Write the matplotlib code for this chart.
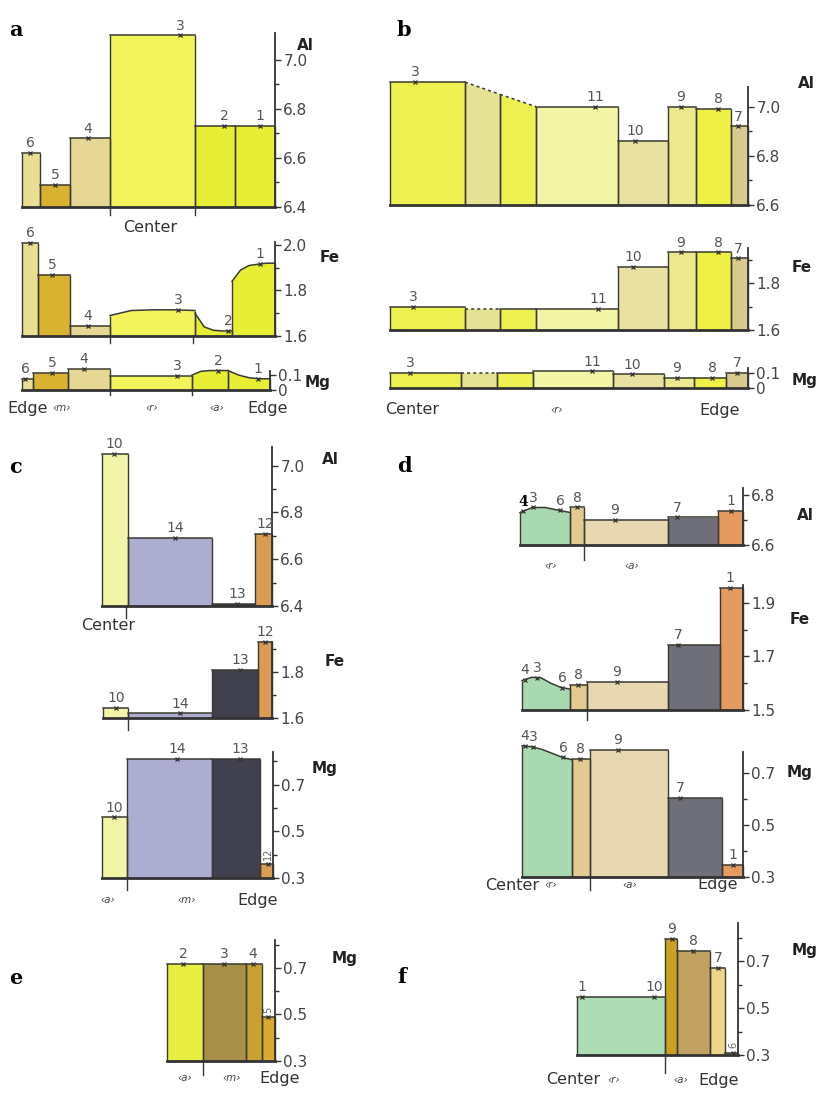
import numpy as np
import matplotlib.pyplot as plt

W, H = 816, 1094
EDGE = "#3a3a30"

# ---------------- data ----------------
# panel a: zones 6..1 (edge -> centre -> edge)
a_labels = ["6", "5", "4", "3", "2", "1"]
a_colors = ["#E9DE92", "#D9B232", "#E6D894", "#F3F35C", "#E7EE34", "#E7EE34"]
a_al_edges = [0, 18, 48, 88, 173, 213, 253]
a_al = [6.62, 6.49, 6.68, 7.10, 6.73, 6.73]
a_al_spots = [8, 33, 66, 158, 202, 238]
a_fe_edges = [0, 16, 48, 88, 173, 210, 253]
a_fe = [2.01, 1.87, 1.645, [1.69, 1.712, 1.715, 1.715, 1.712],
        [1.70, 1.64, 1.625, 1.622, 1.622], [1.84, 1.89, 1.91, 1.915, 1.92, 1.92]]
a_fe_spots = [8, 30, 66, 156, 206, 238]
a_mg_edges = [0, 11, 46, 88, 170, 206, 248]
a_mg = [0.073, 0.113, 0.14, 0.095, [0.10, 0.125, 0.13, 0.13, 0.13],
        [0.13, 0.10, 0.082, 0.075, 0.075]]
a_mg_spots = [3, 30, 62, 155, 196, 236]

# panel b
b_labels = ["3", "11", "10", "9", "8", "7"]
b_colors = ["#EEF050", "#E6E294", "#EEF152", "#F3F5A6", "#E9E1A2", "#ECE98E", "#EEF046", "#D9CA8E"]
b_edges = [0, 75, 110, 146, 228, 278, 306, 341, 358]
b_al = [7.10, [7.10, 7.05], [7.05, 7.00], 7.00, 6.86, 7.00, 6.99, 6.92]
b_al_spots = [25, 205, 245, 291, 328, 348]
b_fe = [1.70, 1.69, 1.69, 1.69, 1.87, 1.93, 1.93, 1.905]
b_fe_spots = [23, 208, 243, 291, 328, 348]
b_mg_edges = [0, 71, 107, 143, 223, 274, 304, 336, 358]
b_mg = [0.10, 0.10, 0.10, 0.11, 0.09, 0.065, 0.065, 0.10]
b_mg_spots = [20, 202, 242, 287, 322, 347]

# panel c
c_labels = ["10", "14", "13", "12"]
c_colors = ["#F2F5A8", "#ADADD2", "#40404E", "#D99C52"]
c_al_edges = [0, 26, 110, 153, 170]
c_al = [7.05, 6.69, 6.41, 6.71]
c_al_spots = [12, 73, 135, 163]
c_fe_edges = [0, 25, 109, 155, 169]
c_fe = [1.643, 1.62, 1.81, 1.93]
c_fe_spots = [13, 77, 137, 162]
c_mg_edges = [0, 25, 110, 158, 171]
c_mg = [0.56, 0.81, 0.81, 0.36]
c_mg_spots = [12, 75, 138, 166]

# panel d
d_labels = ["4", "3", "6", "8", "9", "7", "1"]
d_colors = ["#A9D9B1", "#E3C992", "#E7D8B2", "#6F6F79", "#E59A62"]
d_al_edges = [0, 50, 64, 148, 198, 223]
d_al = [[6.73, 6.75, 6.75, 6.74, 6.73], 6.75, 6.70, 6.71, 6.735]
d_al_spots = [3, 13, 40, 57, 95, 157, 211]
d_fe_edges = [0, 48, 65, 146, 198, 221]
d_fe = [[1.61, 1.622, 1.62, 1.60, 1.585, 1.578], 1.593, 1.605, 1.743, 1.956]
d_fe_spots = [3, 15, 40, 56, 95, 156, 208]
d_mg_edges = [0, 50, 68, 146, 200, 221]
d_mg = [[0.804, 0.80, 0.79, 0.775, 0.76, 0.75], 0.754, 0.788, 0.604, 0.346]
d_mg_spots = [3, 11, 41, 58, 96, 158, 211]

# panel e
e_labels = ["2", "3", "4", "5"]
e_colors = ["#E9EE42", "#A99049", "#C9A133", "#D9A932"]
e_edges = [0, 36, 79, 95, 108]
e_mg = [0.717, 0.717, 0.717, 0.49]
e_spots = [16, 57, 86, 101]

# panel f
f_labels = ["1", "10", "9", "8", "7", "6"]
f_colors = ["#ADDCB5", "#C9A223", "#C0A162", "#EDD58A", "#D9B262"]
f_edges = [0, 88, 100, 133, 148, 161]
f_mg = [0.547, 0.794, 0.742, 0.67, 0.31]
f_spots = [5, 77, 95, 116, 141, 156]

plt.rcParams["font.family"] = ["DejaVu Sans"]
fig = plt.figure(figsize=(W / 100, H / 100), dpi=100)


def strip(x0, ybot, ytop, lo, hi, edges, tops, colors, spots, labels,
          majors, majlabels, minors, elem, elem_xy, bounds=(), blen=8,
          dashed=(), rot=(), bold=()):
    x1 = x0 + edges[-1]
    ax = fig.add_axes([x0 / W, 1 - ybot / H, (x1 - x0) / W, (ybot - ytop) / H])
    ax.patch.set_visible(False)
    ax.set_xlim(edges[0], edges[-1])
    ax.set_ylim(lo, hi)
    profiles = []
    for i, (l, r) in enumerate(zip(edges[:-1], edges[1:])):
        t = np.atleast_1d(np.array(tops[i], dtype=float))
        if t.size == 1:
            t = np.repeat(t, 2)
        xs = np.linspace(l, r, t.size)
        profiles.append((l, r, xs, t))
        ax.fill_between(xs, t, lo, color=colors[i], lw=0, clip_on=False)
        ax.plot(xs, t, color=EDGE, lw=1.1, ls=(0, (2, 2)) if i in dashed else "-",
                clip_on=False)
        ax.vlines([l, r], lo, [t[0], t[-1]], color=EDGE, lw=1.0, clip_on=False)
    for k, (sx, lab) in enumerate(zip(spots, labels)):
        for l, r, xs, t in profiles:
            if l <= sx < r:
                v = np.interp(sx, xs, t)
                break
        ax.plot(sx, v, marker="x", ms=3.5, mew=0.9, color="#333333", clip_on=False)
        kw = dict(fontsize=10, color="#555555")
        if k in bold:
            kw = dict(fontsize=10, color="black", fontweight="bold", family="DejaVu Serif")
        if k in rot:
            ax.annotate(lab, (sx, v), xytext=(0, 3), textcoords="offset points",
                        ha="center", va="bottom", rotation=90, fontsize=7,
                        color="#666666", annotation_clip=False)
        else:
            ax.annotate(lab, (sx, v), xytext=(0, 2), textcoords="offset points",
                        ha="center", va="bottom", annotation_clip=False, **kw)
    for bx in bounds:
        ax.plot([bx, bx], [0, -blen / (ybot - ytop)], transform=ax.get_xaxis_transform(),
                color=EDGE, lw=1.0, clip_on=False)
    ax.yaxis.tick_right()
    ax.set_yticks(majors)
    ax.set_yticklabels(majlabels)
    ax.set_yticks(minors, minor=True)
    ax.set_xticks([])
    ax.tick_params(axis="y", which="both", direction="out", color="#333333",
                   width=1.0, labelsize=11, labelcolor="#444444", pad=2)
    ax.tick_params(axis="y", which="major", length=4)
    ax.tick_params(axis="y", which="minor", length=3)
    for s in ("top", "left"):
        ax.spines[s].set_visible(False)
    ax.spines["right"].set_linewidth(1.3)
    ax.spines["right"].set_color("#333333")
    ax.spines["bottom"].set_linewidth(2.0)
    ax.spines["bottom"].set_color("#333333")
    fig.text(elem_xy[0] / W, 1 - elem_xy[1] / H, elem, ha="center", va="center",
             fontsize=11, fontweight="bold", color="#222222")
    return ax


def note(x, y, s, small=False):
    if small:
        fig.text(x / W, 1 - y / H, s, ha="center", va="center", fontsize=7.5,
                 style="italic", color="#444444")
    else:
        fig.text(x / W, 1 - y / H, s, ha="center", va="center", fontsize=11.5,
                 color="#333333")


al_ticks = [6.4, 6.6, 6.8, 7.0]
al_lab = ["6.4", "6.6", "6.8", "7.0"]

# ---- a ----
strip(22, 207, 33, 6.4, 7.11, a_al_edges, a_al, a_colors, a_al_spots, a_labels,
      al_ticks, al_lab, [6.5, 6.7, 6.9], "Al", (305, 45), bounds=(88, 173), blen=8)
strip(22, 336, 242, 1.6, 2.013, a_fe_edges, a_fe, a_colors, a_fe_spots, a_labels,
      [1.6, 1.8, 2.0], ["1.6", "1.8", "2.0"], [1.7, 1.9], "Fe", (330, 258),
      bounds=(88, 171), blen=7)
strip(22, 390, 371, 0.0, 0.127, a_mg_edges, a_mg, a_colors, a_mg_spots, a_labels,
      [0.0, 0.1], ["0", "0.1"], [], "Mg", (318, 382), bounds=(88, 170), blen=5)
note(150, 228, "Center")
for x, s, sm in [(28, "Edge", False), (62, "‹m›", True), (152, "‹r›", True),
                 (217, "‹a›", True), (268, "Edge", False)]:
    note(x, 408, s, sm)

# ---- b ----
strip(390, 205, 87, 6.6, 7.08, b_edges, b_al, b_colors, b_al_spots, b_labels,
      [6.6, 6.8, 7.0], ["6.6", "6.8", "7.0"], [6.7, 6.9], "Al", (806, 84), dashed=(1, 2))
strip(390, 330, 248, 1.6, 1.949, b_edges, b_fe, b_colors, b_fe_spots, b_labels,
      [1.6, 1.8], ["1.6", "1.8"], [1.7, 1.9], "Fe", (802, 268), dashed=(1,))
strip(390, 388, 368, 0.0, 0.133, b_mg_edges, b_mg, b_colors, b_mg_spots, b_labels,
      [0.0, 0.1], ["0", "0.1"], [], "Mg", (805, 380), dashed=(1,))
note(412, 410, "Center")
note(557, 410, "‹r›", True)
note(720, 410, "Edge")

# ---- c ----
strip(102, 606, 447, 6.4, 7.08, c_al_edges, c_al, c_colors, c_al_spots, c_labels,
      al_ticks, al_lab, [6.5, 6.7, 6.9], "Al", (330, 460), bounds=(24,), blen=12)
strip(103, 718, 642, 1.6, 1.93, c_fe_edges, c_fe, c_colors, c_fe_spots, c_labels,
      [1.6, 1.8], ["1.6", "1.8"], [1.7, 1.9], "Fe", (335, 662), bounds=(25,), blen=12)
strip(102, 878, 752, 0.3, 0.84, c_mg_edges, c_mg, c_colors, c_mg_spots, c_labels,
      [0.3, 0.5, 0.7], ["0.3", "0.5", "0.7"], [0.4, 0.6, 0.8], "Mg", (325, 768),
      bounds=(25,), blen=12, rot=(3,))
note(108, 625, "Center")
note(108, 900, "‹a›", True)
note(187, 900, "‹m›", True)
note(258, 900, "Edge")

# ---- d ----
strip(520, 545, 488, 6.6, 6.828, d_al_edges, d_al, d_colors, d_al_spots, d_labels,
      [6.6, 6.8], ["6.6", "6.8"], [6.7], "Al", (805, 515), bounds=(64,), blen=15,
      bold=(0,))
strip(522, 710, 585, 1.5, 1.967, d_fe_edges, d_fe, d_colors, d_fe_spots, d_labels,
      [1.5, 1.7, 1.9], ["1.5", "1.7", "1.9"], [1.6, 1.8], "Fe", (800, 620),
      bounds=(65,), blen=10)
strip(522, 877, 752, 0.3, 0.78, d_mg_edges, d_mg, d_colors, d_mg_spots, d_labels,
      [0.3, 0.5, 0.7], ["0.3", "0.5", "0.7"], [0.4, 0.6], "Mg", (800, 772),
      bounds=(68,), blen=13)
note(551, 566, "‹r›", True)
note(632, 566, "‹a›", True)
note(512, 885, "Center")
note(551, 885, "‹r›", True)
note(630, 885, "‹a›", True)
note(718, 885, "Edge")

# ---- e ----
strip(167, 1061, 940, 0.3, 0.82, e_edges, e_mg, e_colors, e_spots, e_labels,
      [0.3, 0.5, 0.7], ["0.3", "0.5", "0.7"], [0.4, 0.6, 0.8], "Mg", (345, 958),
      bounds=(36,), blen=14, rot=(3,))
note(185, 1078, "‹a›", True)
note(232, 1078, "‹m›", True)
note(280, 1078, "Edge")

# ---- f ----
strip(577, 1055, 923, 0.3, 0.862, f_edges, f_mg, f_colors, f_spots, f_labels,
      [0.3, 0.5, 0.7], ["0.3", "0.5", "0.7"], [0.4, 0.6, 0.8], "Mg", (805, 950),
      bounds=(88,), blen=18, rot=(5,))
note(573, 1080, "Center")
note(614, 1080, "‹r›", True)
note(681, 1080, "‹a›", True)
note(719, 1080, "Edge")

for s, x, y in [("a", 16, 30), ("b", 404, 30), ("c", 16, 467),
                ("d", 404, 466), ("e", 16, 978), ("f", 402, 977)]:
    fig.text(x / W, 1 - y / H, s, ha="center", va="center", fontsize=15,
             fontweight="bold", family="DejaVu Serif")

fig.savefig("out.png", dpi=100)
plt.close()
